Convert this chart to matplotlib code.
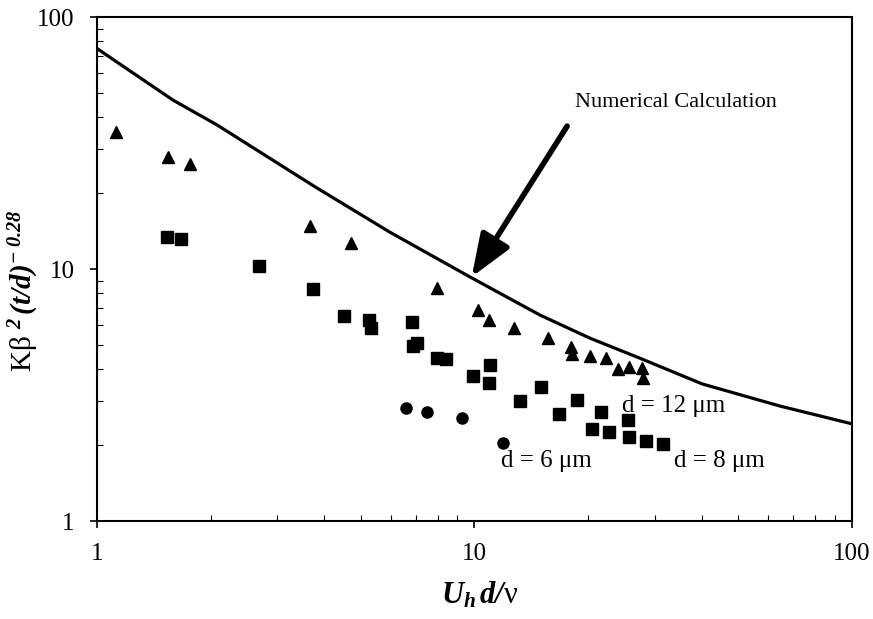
import numpy as np
import matplotlib
matplotlib.use("Agg")
import matplotlib.pyplot as plt
import matplotlib.ticker as mticker

plt.rcParams["font.family"] = ["Liberation Serif", "DejaVu Serif"]
plt.rcParams["mathtext.fontset"] = "custom"
plt.rcParams["mathtext.rm"] = "Liberation Serif"
plt.rcParams["mathtext.it"] = "Liberation Serif:italic"
plt.rcParams["mathtext.bf"] = "Liberation Serif:bold"
plt.rcParams["mathtext.bfit"] = "Liberation Serif:bold:italic"

# ---- data ----
# numerical calculation curve
calc_x = [1.0, 1.59, 2.08, 3.78, 5.97, 9.73, 14.9, 20.2, 27.4, 40.1, 64.4, 100.0]
calc_y = [75.0, 46.8, 37.3, 21.2, 14.0, 9.3, 6.57, 5.32, 4.43, 3.50, 2.86, 2.43]

# d = 12 um (triangles)
tri_x = [1.12, 1.54, 1.76, 3.67, 4.71, 7.96, 10.2, 10.9, 12.7, 15.7,
         18.0, 18.1, 20.2, 22.3, 24.0, 25.7, 27.8, 28.0]
tri_y = [35.0, 27.8, 26.1, 14.8, 12.7, 8.41, 6.88, 6.28, 5.83, 5.32,
         4.90, 4.60, 4.52, 4.43, 4.01, 4.08, 4.05, 3.69]

# d = 8 um (squares)
sq_x = [1.53, 1.67, 2.69, 3.74, 4.51, 5.25, 5.32, 6.83, 6.87, 7.04,
        7.96, 8.40, 9.91, 11.0, 10.9, 13.2, 15.0, 16.7, 18.7, 21.6,
        25.5, 20.5, 22.7, 25.7, 28.5, 31.6]
sq_y = [13.4, 13.2, 10.3, 8.33, 6.51, 6.28, 5.83, 6.16, 4.95, 5.09,
        4.43, 4.39, 3.76, 4.16, 3.53, 2.99, 3.40, 2.66, 3.02, 2.71,
        2.52, 2.32, 2.26, 2.15, 2.08, 2.02]

# d = 6 um (circles)
ci_x = [6.58, 7.48, 9.27, 11.9]
ci_y = [2.81, 2.71, 2.56, 2.04]

fig = plt.figure(figsize=(8.73, 6.19), dpi=100)
ax = fig.add_axes([0.1111, 0.1583, 0.8648, 0.8142])

ax.plot(calc_x, calc_y, color="black", lw=2.3, zorder=3)
ax.plot(tri_x, tri_y, "^", color="black", ms=9, zorder=4)
ax.plot(sq_x, sq_y, "s", color="black", ms=8, zorder=4)
ax.plot(ci_x, ci_y, "o", color="black", ms=8, zorder=4)

ax.set_xscale("log")
ax.set_yscale("log")
ax.set_xlim(1, 100)
ax.set_ylim(1, 100)

ax.xaxis.set_major_formatter(mticker.FuncFormatter(lambda v, _: f"{v:g}"))
ax.yaxis.set_major_formatter(mticker.FuncFormatter(lambda v, _: f"{v:g}"))
ax.xaxis.set_minor_formatter(mticker.NullFormatter())
ax.yaxis.set_minor_formatter(mticker.NullFormatter())

ax.tick_params(which="major", direction="out", length=5, width=1.2,
               labelsize=18, pad=11)
ax.tick_params(which="minor", direction="in", length=4, width=0.8)
for s in ax.spines.values():
    s.set_linewidth(1.5)

ax.set_xlabel(r"$\mathbfit{U}_{\mathbfit{h}}\,\mathbfit{d/}\mathrm{\nu}$", fontsize=22)
ax.set_ylabel(r"K$\mathrm{\beta}$ $^{\mathbfit{2}}\,\mathbfit{(t/d)}^{\mathbfit{-\ 0.28}}$",
              fontsize=21)
ax.xaxis.set_label_coords(0.507, -0.118)
ax.yaxis.set_label_coords(-0.074, 0.458)

# annotations
ax.annotate("", xy=(9.83, 9.30), xytext=(17.6, 36.9),
            arrowprops=dict(arrowstyle="-|>,head_length=1.3,head_width=0.5",
                            mutation_scale=20, color="black", lw=4,
                            shrinkA=0, shrinkB=0))
ax.text(18.5, 45.6, "Numerical Calculation", fontsize=16, va="center", ha="left")
ax.text(24.6, 2.86, "d = 12 \u03bcm", fontsize=18, va="center", ha="left")
ax.text(11.75, 1.73, "d = 6 \u03bcm", fontsize=18, va="center", ha="left")
ax.text(33.8, 1.73, "d = 8 \u03bcm", fontsize=18, va="center", ha="left")

fig.savefig("out.png", dpi=100)
